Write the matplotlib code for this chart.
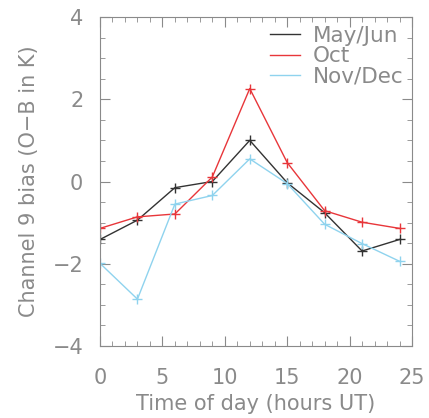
import matplotlib
matplotlib.use("Agg")
import matplotlib.pyplot as plt
from matplotlib.ticker import MultipleLocator

# time of day (hours UT)
hours = [0, 3, 6, 9, 12, 15, 18, 21, 24]

# O-B bias, channel 9 (K)
may_jun = [-1.41, -0.94, -0.15, 0.0, 1.00, -0.03, -0.76, -1.69, -1.41]
oct_ = [-1.14, -0.86, -0.79, 0.11, 2.26, 0.46, -0.71, -0.99, -1.14]
nov_dec = [-1.99, -2.86, -0.55, -0.34, 0.55, -0.05, -1.04, -1.51, -1.94]

series_names = ["May/Jun", "Oct", "Nov/Dec"]
series_colors = ["#333333", "#e8363a", "#8fd3ee"]

grey = "#8a8a8a"

fig = plt.figure(figsize=(4.29, 4.18), dpi=100)
ax = fig.add_axes([100 / 429, 1 - 346 / 418, 312 / 429, 329 / 418])

for vals, name, col in zip([may_jun, oct_, nov_dec], series_names, series_colors):
    ax.plot(hours, vals, color=col, lw=1.0, marker="+", ms=7, mew=1.0, label=name)

ax.set_xlim(0, 25)
ax.set_ylim(-4, 4)
ax.xaxis.set_major_locator(MultipleLocator(5))
ax.xaxis.set_minor_locator(MultipleLocator(1))
ax.yaxis.set_major_locator(MultipleLocator(2))
ax.yaxis.set_minor_locator(MultipleLocator(0.5))
ax.tick_params(which="both", direction="in", top=True, right=True, color=grey)
ax.tick_params(which="major", length=7, width=0.8, labelsize=15, labelcolor=grey)
ax.tick_params(axis="x", which="major", pad=16)
ax.tick_params(axis="y", which="major", pad=12)
ax.tick_params(which="minor", length=3.5, width=0.6)
for sp in ax.spines.values():
    sp.set_color(grey)
    sp.set_linewidth(0.8)

ax.set_xlabel("Time of day (hours UT)", fontsize=15, color=grey, labelpad=4)
ax.set_ylabel("Channel 9 bias (O\u2212B in K)", fontsize=15, color=grey, labelpad=10)

leg = ax.legend(loc="upper right", frameon=False, fontsize=15.5, handlelength=1.4,
                handletextpad=0.6, labelspacing=0.02, borderaxespad=0.0,
                labelcolor=grey)
for h in leg.legend_handles:
    h.set_marker("")

fig.savefig("out.png", dpi=100)
